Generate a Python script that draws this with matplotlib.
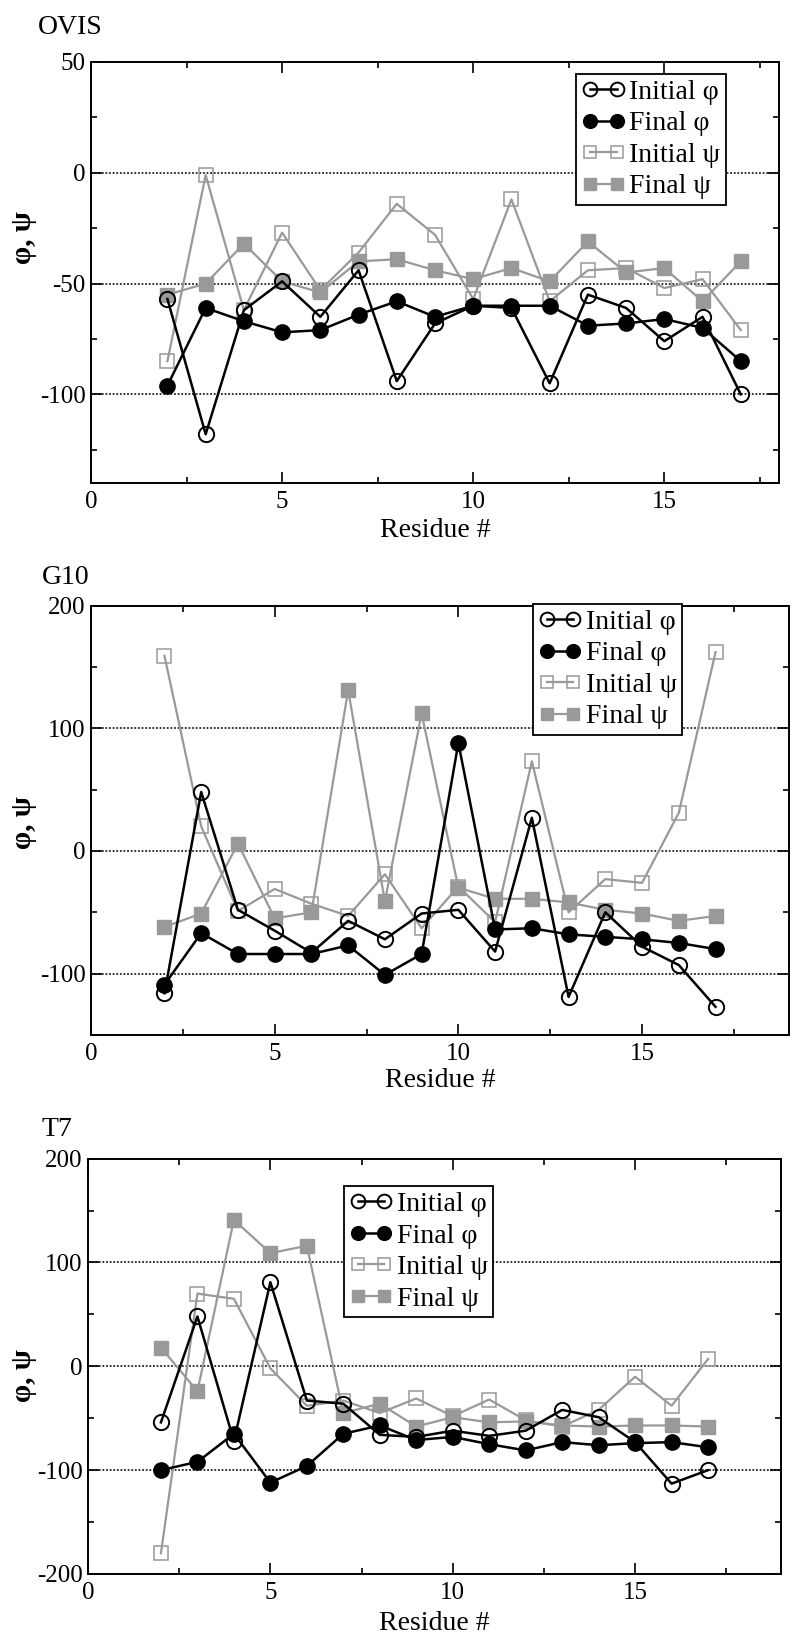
import matplotlib
matplotlib.use("Agg")
import matplotlib.pyplot as plt
from matplotlib.ticker import MultipleLocator

plt.rcParams['font.family'] = ['Liberation Serif', 'DejaVu Serif']
plt.rcParams['axes.unicode_minus'] = False

residues = [2, 3, 4, 5, 6, 7, 8, 9, 10, 11, 12, 13, 14, 15, 16, 17]

ovis_init_phi = [-57, -118, -62, -49, -65, -44, -94, -68, -60, -61, -95, -55, -61, -76, -65, -100]
ovis_final_phi = [-96, -61, -67, -72, -71, -64, -58, -65, -60, -60, -60, -69, -68, -66, -70, -85]
ovis_init_psi = [-85, -1, -62, -27, -53, -36, -14, -28, -57, -12, -58, -44, -43, -52, -48, -71]
ovis_final_psi = [-55, -50, -32, -49, -54, -40, -39, -44, -48, -43, -49, -31, -45, -43, -58, -40]

g10_init_phi = [-116, 48, -48, -65, -83, -57, -72, -51, -48, -82, 27, -119, -50, -78, -93, -127]
g10_final_phi = [-109, -67, -84, -84, -84, -77, -101, -84, 88, -64, -63, -68, -70, -72, -75, -80]
g10_init_psi = [159, 20, -49, -31, -43, -53, -19, -63, -29, -58, 73, -50, -23, -26, 31, 162]
g10_final_psi = [-62, -51, 6, -55, -50, 131, -41, 112, -30, -39, -39, -42, -48, -51, -57, -53]

t7_init_phi = [-54, 48, -72, 81, -33, -36, -66, -68, -62, -67, -62, -42, -49, -73, -113, -100]
t7_final_phi = [-100, -92, -65, -112, -96, -65, -57, -71, -68, -75, -81, -73, -76, -74, -73, -78]
t7_init_psi = [-180, 70, 65, -2, -38, -33, -45, -31, -48, -32, -52, -58, -42, -10, -38, 7]
t7_final_psi = [18, -24, 141, 109, 116, -45, -36, -58, -49, -54, -53, -57, -58, -57, -57, -58]

panel_titles = ["OVIS", "G10", "T7"]
series_labels = ["Initial φ", "Final φ", "Initial ψ", "Final ψ"]
x_label = "Residue #"
y_label = "φ, ψ"

GRAY = "#999999"

fig = plt.figure(figsize=(8, 16.43), dpi=100)
W, H = 800.0, 1643.0

def px_axes(l, r, t, b):
    return fig.add_axes([l / W, 1 - b / H, (r - l) / W, (b - t) / H])

panels = [
    dict(box=(91, 779, 62, 483), xlim=(0, 18), ylim=(-140, 50), ymaj=50, ymin=25,
         grid=[0, -50, -100], data=(ovis_init_phi, ovis_final_phi, ovis_init_psi, ovis_final_psi),
         leg=(0.705, 0.972), ylab=(-0.0974, 0.584), xlab=-0.112, title=(38, 27)),
    dict(box=(91, 789, 605.5, 1035), xlim=(0, 19), ylim=(-150, 200), ymaj=100, ymin=50,
         grid=[100, 0, -100], data=(g10_init_phi, g10_final_phi, g10_init_psi, g10_final_psi),
         leg=(0.633, 1.004), ylab=(-0.096, 0.494), xlab=-0.105, title=(42, 578)),
    dict(box=(88, 781, 1158.6, 1574), xlim=(0, 19), ylim=(-200, 200), ymaj=100, ymin=50,
         grid=[100, 0, -100], data=(t7_init_phi, t7_final_phi, t7_init_psi, t7_final_psi),
         leg=(0.369, 0.934), ylab=(-0.0924, 0.477), xlab=-0.12, title=(42, 1129.5)),
]

for p, title in zip(panels, panel_titles):
    ax = px_axes(*p['box'])
    ip, fp, ips, fps = p['data']
    for y in p['grid']:
        ax.axhline(y, color='#222222', lw=1.3, ls=(0, (1, 1)), zorder=1)
    ax.plot(residues, ip, '-o', color='black', lw=1.8, ms=11, mfc='none', mec='black',
            mew=1.4, label=series_labels[0], zorder=3)
    ax.plot(residues, fp, '-o', color='black', lw=1.8, ms=11, mfc='black', mec='black',
            mew=1.0, label=series_labels[1], zorder=4)
    ax.plot(residues, ips, '-s', color=GRAY, lw=1.6, ms=9.5, mfc='none', mec=GRAY,
            mew=1.1, label=series_labels[2], zorder=2)
    ax.plot(residues, fps, '-s', color=GRAY, lw=1.6, ms=9.5, mfc=GRAY, mec=GRAY,
            mew=1.0, label=series_labels[3], zorder=2.5)

    ax.set_xlim(*p['xlim'])
    ax.set_ylim(*p['ylim'])
    ax.xaxis.set_major_locator(MultipleLocator(5))
    ax.xaxis.set_minor_locator(MultipleLocator(2.5))
    ax.yaxis.set_major_locator(MultipleLocator(p['ymaj']))
    ax.yaxis.set_minor_locator(MultipleLocator(p['ymin']))
    ax.tick_params(which='both', direction='in', top=True, right=True, width=1.2,
                   labelsize=18)
    ax.tick_params(which='major', length=8)
    ax.tick_params(axis='x', which='major', pad=6)
    ax.tick_params(axis='y', which='major', pad=4)
    ax.tick_params(which='minor', length=4)
    for s in ax.spines.values():
        s.set_linewidth(1.4)

    ax.set_xlabel(x_label, fontsize=20)
    ax.xaxis.set_label_coords(0.5, p['xlab'])
    ax.xaxis.label.set_va('center')
    ax.set_ylabel(y_label, fontsize=21, fontweight='bold')
    ax.yaxis.set_label_coords(*p['ylab'])
    ax.yaxis.label.set_va('center')

    leg = ax.legend(loc='upper left', bbox_to_anchor=p['leg'], borderaxespad=0,
                    fontsize=20, numpoints=2, handlelength=1.56, handletextpad=0.15,
                    labelspacing=0.22, borderpad=0.2, fancybox=False, framealpha=1,
                    edgecolor='black', markerscale=0.9)
    leg.get_frame().set_linewidth(1.3)
    leg.set_zorder(10)

    fig.text(p['title'][0] / W, 1 - p['title'][1] / H, title, fontsize=20,
             ha='left', va='center')

fig.savefig("out.png", dpi=100)
